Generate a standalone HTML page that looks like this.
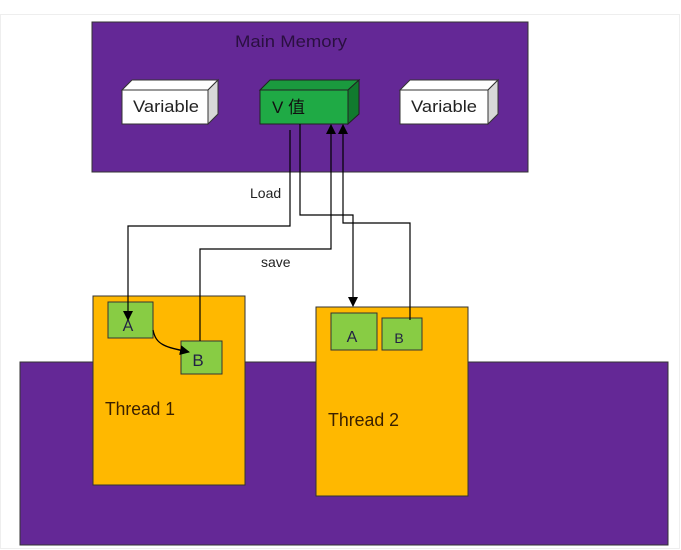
<!DOCTYPE html>
<html><head><meta charset="utf-8"><style>
html,body{margin:0;padding:0;background:#fff;width:681px;height:550px;overflow:hidden}
svg{display:block}
text{font-family:"Liberation Sans","Noto Sans CJK SC",sans-serif}
</style></head><body>
<svg width="681" height="550" viewBox="0 0 681 550" xmlns="http://www.w3.org/2000/svg">
<defs>
<marker id="ar" markerWidth="10" markerHeight="10" refX="9" refY="5" orient="auto" markerUnits="userSpaceOnUse">
<path d="M0,0 L10,5 L0,10 z" fill="#000"/></marker>
</defs>
<rect x="0.5" y="14.5" width="679" height="534" fill="#fff" stroke="#eee"/>
<rect x="92" y="22" width="436" height="150" fill="#642896" stroke="#333"/>
<text x="291" y="47" font-size="17" fill="#2a1040" text-anchor="middle" textLength="112" lengthAdjust="spacingAndGlyphs">Main Memory</text>
<polygon points="122,90 132,80 218,80 208,90" fill="#fff" stroke="#333"/>
<polygon points="208,90 218,80 218,114 208,124" fill="#d8d8d8" stroke="#333"/>
<rect x="122" y="90" width="86" height="34" fill="#fff" stroke="#333"/>
<text x="166" y="112" font-size="17" fill="#222" text-anchor="middle" textLength="66" lengthAdjust="spacingAndGlyphs">Variable</text>
<polygon points="260,90 270,80 359,80 348,90" fill="#1a9a3e" stroke="#222"/>
<polygon points="348,90 359,80 359,114 348,124" fill="#117a2e" stroke="#222"/>
<rect x="260" y="90" width="88" height="34" fill="#1faa45" stroke="#222"/>
<text x="272" y="113" font-size="17" fill="#111">V 值</text>
<polygon points="400,90 410,80 498,80 488,90" fill="#fff" stroke="#333"/>
<polygon points="488,90 498,80 498,114 488,124" fill="#d8d8d8" stroke="#333"/>
<rect x="400" y="90" width="88" height="34" fill="#fff" stroke="#333"/>
<text x="444" y="112" font-size="17" fill="#222" text-anchor="middle" textLength="66" lengthAdjust="spacingAndGlyphs">Variable</text>
<rect x="20" y="362" width="648" height="183" fill="#642896" stroke="#333"/>
<rect x="93" y="296" width="152" height="189" fill="#ffb800" stroke="#333"/>
<text x="105" y="415" font-size="18" fill="#3a2000" textLength="70" lengthAdjust="spacingAndGlyphs">Thread 1</text>
<rect x="108" y="302" width="45" height="36" fill="#88cc44" stroke="#333"/>
<text x="128" y="331" font-size="16" fill="#224" text-anchor="middle">A</text>
<rect x="181" y="341" width="41" height="33" fill="#88cc44" stroke="#333"/>
<text x="198" y="366" font-size="17" fill="#224" text-anchor="middle">B</text>
<path d="M153,330 C156,345 165,347 189,352" fill="none" stroke="#000" stroke-width="1.3" marker-end="url(#ar)"/>
<rect x="316" y="307" width="152" height="189" fill="#ffb800" stroke="#333"/>
<text x="328" y="426" font-size="18" fill="#3a2000" textLength="71" lengthAdjust="spacingAndGlyphs">Thread 2</text>
<rect x="331" y="313" width="46" height="37" fill="#88cc44" stroke="#333"/>
<text x="352" y="342" font-size="16" fill="#224" text-anchor="middle">A</text>
<rect x="382" y="318" width="40" height="32" fill="#88cc44" stroke="#333"/>
<text x="399" y="343" font-size="14" fill="#224" text-anchor="middle">B</text>
<polyline points="290,130 290,226 128,226 128,320" fill="none" stroke="#000" stroke-width="1.2" marker-end="url(#ar)"/>
<polyline points="300,124 300,215 353,215 353,306" fill="none" stroke="#000" stroke-width="1.2" marker-end="url(#ar)"/>
<polyline points="200,341 200,249 331,249 331,125" fill="none" stroke="#000" stroke-width="1.2" marker-end="url(#ar)"/>
<polyline points="410,320 410,223 343,223 343,125" fill="none" stroke="#000" stroke-width="1.2" marker-end="url(#ar)"/>
<text x="250" y="198" font-size="14" fill="#222" font-family="Liberation Serif,serif">Load</text>
<text x="261" y="267" font-size="14" fill="#222" font-family="Liberation Serif,serif">save</text>
</svg>
</body></html>
